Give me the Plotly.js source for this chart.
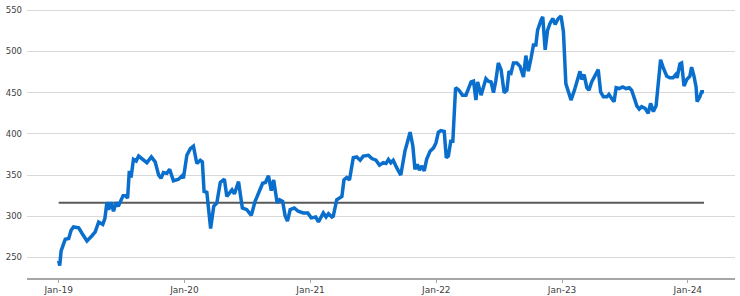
<!DOCTYPE html>
<html><head><meta charset="utf-8">
<script src="https://cdn.plot.ly/plotly-3.0.1.min.js"></script>
<style>html,body{margin:0;padding:0;background:#fff}#chart{width:740px;height:296px}</style>
</head><body><div id="chart"></div>
<script>
const dates = ["2019-01-01","2019-01-04","2019-01-08","2019-01-14","2019-01-20","2019-01-30","2019-02-06","2019-02-13","2019-02-28","2019-03-10","2019-03-24","2019-04-07","2019-04-17","2019-04-27","2019-05-09","2019-05-15","2019-05-21","2019-05-26","2019-06-02","2019-06-09","2019-06-17","2019-06-23","2019-07-01","2019-07-07","2019-07-13","2019-07-20","2019-07-25","2019-07-30","2019-08-06","2019-08-14","2019-08-21","2019-09-02","2019-09-14","2019-09-27","2019-10-08","2019-10-18","2019-10-25","2019-11-01","2019-11-11","2019-11-19","2019-11-30","2019-12-15","2019-12-25","2019-12-29",
"2020-01-08","2020-01-18","2020-01-27","2020-02-06","2020-02-16","2020-02-22","2020-02-27","2020-03-06","2020-03-11","2020-03-17","2020-03-26","2020-04-04","2020-04-14","2020-04-26","2020-05-03","2020-05-18","2020-05-25","2020-06-06","2020-06-17","2020-06-30","2020-07-13","2020-07-24","2020-08-05","2020-08-15","2020-08-23","2020-09-01","2020-09-09","2020-09-16","2020-09-26","2020-10-03","2020-10-12","2020-10-19","2020-10-26","2020-11-03","2020-11-15","2020-11-26","2020-12-11","2020-12-24",
"2021-01-03","2021-01-16","2021-01-24","2021-02-03","2021-02-07","2021-02-15","2021-02-22","2021-03-04","2021-03-08","2021-03-18","2021-03-26","2021-04-02","2021-04-08","2021-04-16","2021-04-24","2021-05-05","2021-05-15","2021-05-25","2021-06-03","2021-06-18","2021-06-28","2021-07-10","2021-07-20","2021-07-31","2021-08-08","2021-08-15","2021-08-22","2021-08-29","2021-09-08","2021-09-20","2021-10-02","2021-10-09","2021-10-17","2021-10-25","2021-10-31","2021-11-07","2021-11-13","2021-11-20","2021-11-27","2021-12-04","2021-12-14","2021-12-24","2021-12-31",
"2022-01-07","2022-01-14","2022-01-24","2022-01-30","2022-02-05","2022-02-12","2022-02-18","2022-02-22","2022-02-26","2022-03-08","2022-03-18","2022-03-28","2022-04-04","2022-04-12","2022-04-19","2022-04-26","2022-05-01","2022-05-11","2022-05-18","2022-05-25","2022-06-01","2022-06-09","2022-06-16","2022-06-23","2022-06-30","2022-07-08","2022-07-17","2022-07-25","2022-07-31","2022-08-06","2022-08-13","2022-08-23","2022-09-01","2022-09-11","2022-09-18","2022-09-25","2022-10-03","2022-10-10","2022-10-17","2022-10-22","2022-11-01","2022-11-06","2022-11-13","2022-11-20","2022-11-27","2022-12-05","2022-12-12","2022-12-21","2022-12-29",
"2023-01-05","2023-01-12","2023-01-19","2023-01-27","2023-02-06","2023-02-16","2023-02-22","2023-02-27","2023-03-06","2023-03-14","2023-03-20","2023-03-28","2023-04-07","2023-04-16","2023-04-23","2023-05-01","2023-05-11","2023-05-17","2023-05-25","2023-06-01","2023-06-07","2023-06-16","2023-06-26","2023-07-06","2023-07-15","2023-07-22","2023-07-30","2023-08-06","2023-08-13","2023-08-20","2023-08-30","2023-09-08","2023-09-15","2023-09-23","2023-10-01","2023-10-07","2023-10-14","2023-10-22","2023-11-01","2023-11-10","2023-11-19","2023-11-27","2023-12-01","2023-12-09","2023-12-14","2023-12-21","2023-12-29",
"2024-01-07","2024-01-12","2024-01-19","2024-01-25","2024-01-28","2024-02-05","2024-02-10","2024-02-17"];
const values = [246,240,258,265,272,273,283,287,286,279,270,276,281,293,290,297,317,308,317,306,317,312,320,325,325,322,355,347,369,367,373,369,365,372,366,350,346,353,352,357,343,345,349,346,
374,382,385,364,368,366,330,329,310,285,312,316,341,345,324,332,327,342,310,308,301,318,330,340,341,349,331,344,316,320,318,301,294,308,310,306,304,304,
298,299,293,301,304,299,303,299,300,320,322,324,344,347,344,371,372,368,373,374,370,368,362,365,364,369,365,368,359,350,379,389,402,385,357,363,356,361,355,369,379,383,389,
402,404,403,371,373,391,391,421,456,453,447,447,454,463,464,441,463,447,457,467,464,463,450,465,486,478,450,453,476,474,486,486,482,469,495,476,492,508,508,526,538,542,502,526,534,540,533,540,543,
524,461,453,441,453,470,476,466,472,456,453,463,472,478,451,445,445,448,443,439,456,455,457,455,456,453,443,434,430,433,431,425,437,427,434,466,490,480,470,468,468,472,468,485,486,458,466,
470,481,470,457,439,445,451,451];
const meanDates = ["2019-01-01","2024-02-17"];
const meanValues = [316.5,316.5];
const yTicks = [250,300,350,400,450,500,550];

const traces = [
  {x: meanDates, y: meanValues, type:'scatter', mode:'lines', line:{color:'#595959', width:2}, hoverinfo:'skip'},
  {x: dates, y: values, type:'scatter', mode:'lines', line:{color:'#0a6fcc', width:3.5, shape:'linear'}}
];
const layout = {
  width:740, height:296,
  margin:{l:27, r:5, t:0, b:18},
  showlegend:false,
  paper_bgcolor:'#fff', plot_bgcolor:'#fff',
  font:{family:'DejaVu Sans, sans-serif', color:'#404040'},
  xaxis:{type:'date', range:['2018-10-01','2024-05-17'], tick0:'2019-01-01', dtick:'M12', tickformat:'%b-%y',
    showgrid:false, showline:true, linecolor:'#a6a6a6', linewidth:1.5, ticks:'outside', ticklen:3, tickcolor:'#a6a6a6',
    tickfont:{size:9, color:'#404040'}, zeroline:false},
  yaxis:{range:[225,562.5], tickvals:yTicks, showgrid:true, gridcolor:'#d9d9d9', gridwidth:1, zeroline:false,
    showline:false, ticks:'', tickfont:{size:8.5, color:'#404040'}, ticklabelstandoff:4}
};
Plotly.newPlot('chart', traces, layout, {staticPlot:true, displayModeBar:false});
</script></body></html>
